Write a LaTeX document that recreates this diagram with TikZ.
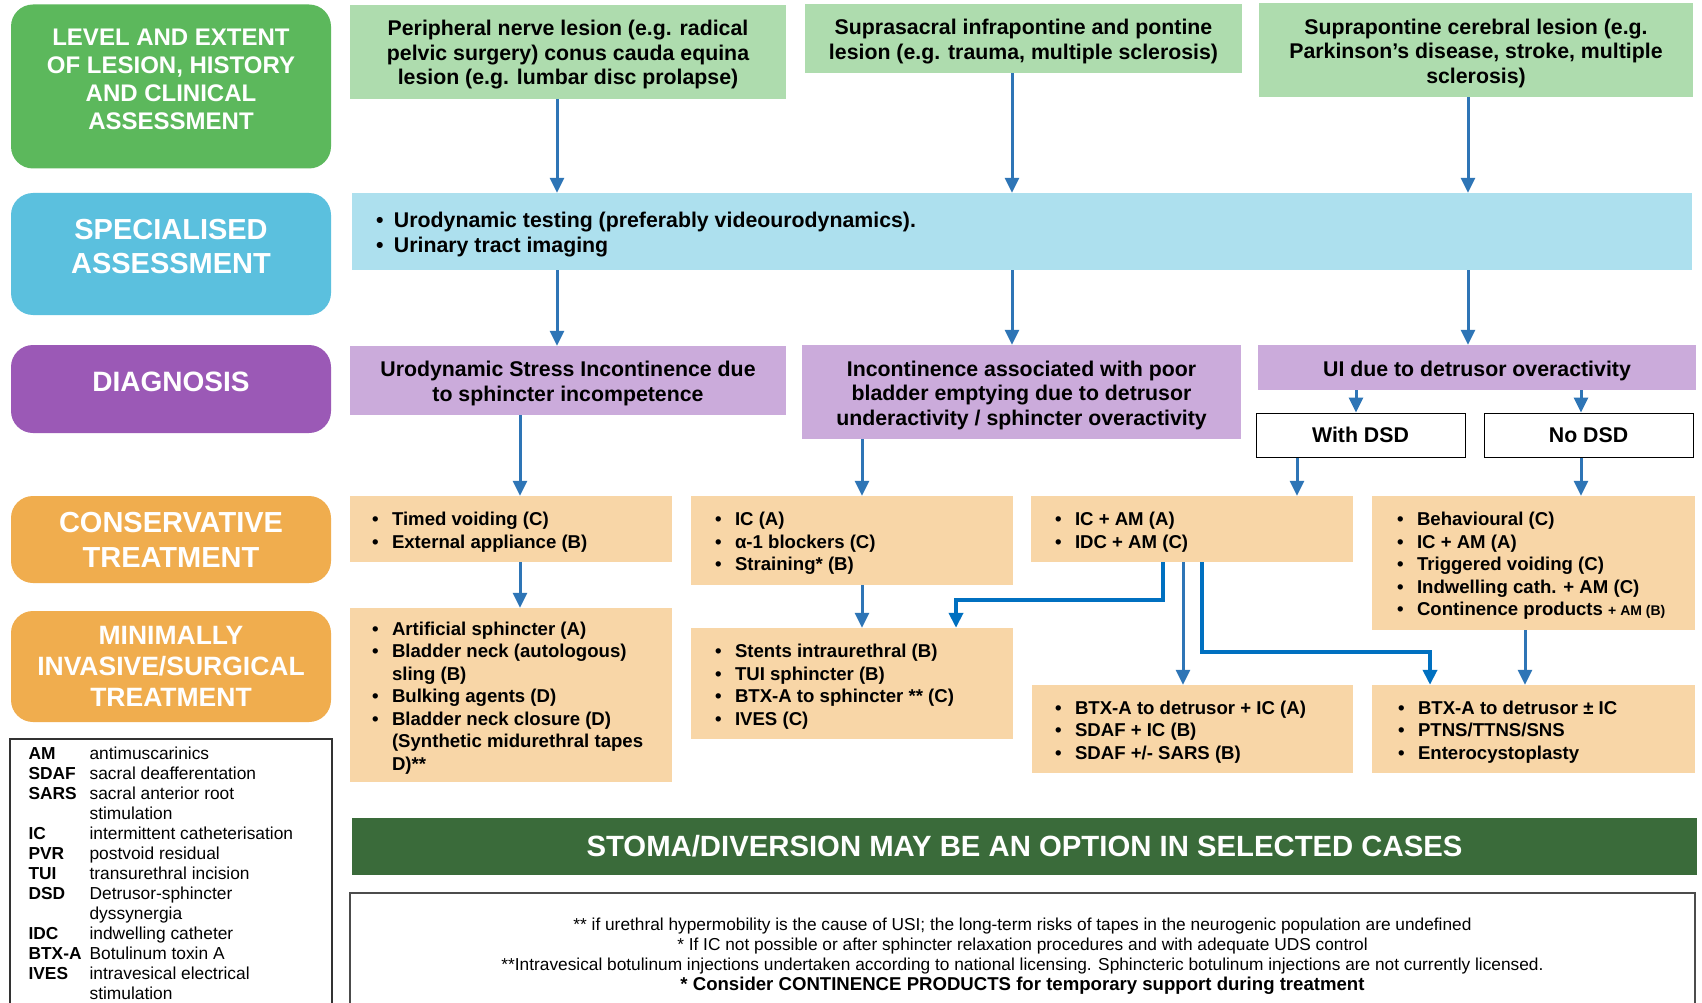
\documentclass[tikz,border=0pt]{standalone}
\usepackage{fontspec}
\setmainfont{Liberation Sans}
\usetikzlibrary{arrows.meta,calc}

\definecolor{cgreen}{HTML}{5CB85C}
\definecolor{cblue}{HTML}{5BC0DE}
\definecolor{cpurple}{HTML}{9B59B6}
\definecolor{corange}{HTML}{F0AD4E}
\definecolor{lgreen}{HTML}{AEDCAE}
\definecolor{lblue}{HTML}{ADE0EE}
\definecolor{lpurple}{HTML}{CBABDB}
\definecolor{lorange}{HTML}{F8D6A7}
\definecolor{dgreen}{HTML}{3A6B3A}
\definecolor{arrblue}{HTML}{2E75B6}
\definecolor{arrbluetwo}{HTML}{0070C0}

\newcommand{\bul}[1][20pt]{\makebox[#1][l]{\textbullet}}
\newcommand{\bind}[1][20pt]{\hspace*{#1}}
\newcommand{\tstrut}{\rule{0pt}{21.5pt}}

\tikzset{
  lab/.style={rounded corners=22pt, inner sep=0pt, minimum width=320pt},
  labtxt/.style={text=white, align=center, inner sep=0pt},
  mbox/.style={inner sep=0pt, align=center, font=\bfseries\fontsize{21.3}{24.5}\selectfont},
  tbox/.style={fill=lorange, inner sep=0pt},
  tlist/.style={anchor=west, inner sep=0pt, yshift=-3pt, align=left, font=\bfseries\fontsize{18.6}{22.5}\selectfont},
  dsdbox/.style={draw=black, line width=1pt, fill=white, inner sep=0pt, minimum width=209pt, minimum height=44pt, font=\bfseries\fontsize{21.3}{24.5}\selectfont},
  arr/.style={draw=arrblue, line width=3pt, -{Triangle[length=15pt,width=14pt]}},
  arrb/.style={draw=arrbluetwo, line width=4pt, -{Triangle[length=15pt,width=14pt]}},
}

\begin{document}
\begin{tikzpicture}[x=1pt,y=-1pt]
\useasboundingbox (0,0) rectangle (1702,1003);
\fill[white] (0,0) rectangle (1702,1003);

% left labels
\node[lab, fill=cgreen, minimum height=164pt] (lev) at (171,86.5) {};
\node[labtxt, font=\bfseries\fontsize{24}{28}\selectfont, yshift=7.5pt] (levt) at (lev.center) {LEVEL AND EXTENT\\OF LESION, HISTORY\\AND CLINICAL\\ASSESSMENT};
\node[lab, fill=cblue, minimum height=122pt] (spec) at (171,254) {};
\node[labtxt, font=\bfseries\fontsize{29}{34}\selectfont, yshift=7.5pt] (spect) at (spec.center) {SPECIALISED\\ASSESSMENT};
\node[lab, fill=cpurple, minimum height=88pt] (diag) at (171,389) {};
\node[labtxt, font=\bfseries\fontsize{28}{34}\selectfont, yshift=7pt] (diagt) at (diag.center) {DIAGNOSIS};
\node[lab, fill=corange, minimum height=87pt] (cons) at (171,539.5) {};
\node[labtxt, font=\bfseries\fontsize{29}{35}\selectfont] (const) at (cons.center) {CONSERVATIVE\\TREATMENT};
\node[lab, fill=corange, minimum height=111pt] (mini) at (171,666.5) {};
\node[labtxt, font=\bfseries\fontsize{26.5}{31}\selectfont] (minit) at (mini.center) {MINIMALLY\\INVASIVE/SURGICAL\\TREATMENT};

% legend
\node[draw=black!80, line width=1.2pt, inner sep=0pt, minimum width=322pt, minimum height=268pt] (legend) at (171,873) {};
\node[anchor=west, inner sep=0pt, align=left, font=\fontsize{17.35}{20}\selectfont] (legt) at ([xshift=19pt]legend.west) {%
\makebox[61pt][l]{\textbf{AM}}antimuscarinics\\
\makebox[61pt][l]{\textbf{SDAF}}sacral deafferentation\\
\makebox[61pt][l]{\textbf{SARS}}sacral anterior root\\
\makebox[61pt][l]{}stimulation\\
\makebox[61pt][l]{\textbf{IC}}intermittent catheterisation\\
\makebox[61pt][l]{\textbf{PVR}}postvoid residual\\
\makebox[61pt][l]{\textbf{TUI}}transurethral incision\\
\makebox[61pt][l]{\textbf{DSD}}Detrusor-sphincter\\
\makebox[61pt][l]{}dyssynergia\\
\makebox[61pt][l]{\textbf{IDC}}indwelling catheter\\
\makebox[61pt][l]{\textbf{BTX-A}}Botulinum toxin A\\
\makebox[61pt][l]{\textbf{IVES}}intravesical electrical\\
\makebox[61pt][l]{}stimulation};

% top row
\node[mbox, fill=lgreen, minimum width=436pt, minimum height=94pt] (p1) at (568,52) {\tstrut Peripheral nerve lesion (e.g. radical\\pelvic surgery) conus cauda equina\\lesion (e.g. lumbar disc prolapse)};
\node[mbox, fill=lgreen, minimum width=437pt, minimum height=69pt] (p2) at (1023.5,38.5) {\tstrut Suprasacral infrapontine and pontine\\lesion (e.g. trauma, multiple sclerosis)};
\node[mbox, fill=lgreen, minimum width=434pt, minimum height=94pt] (p3) at (1476,50) {\tstrut Suprapontine cerebral lesion (e.g.\\Parkinson’s disease, stroke, multiple\\sclerosis)};

% specialised assessment
\node[fill=lblue, inner sep=0pt, minimum width=1340pt, minimum height=77pt] (sa) at (1022,231.5) {};
\node[anchor=west, inner sep=0pt, yshift=-3pt, align=left, font=\bfseries\fontsize{21.3}{25}\selectfont] (sat) at ([xshift=24pt]sa.west) {\bul[18pt]Urodynamic testing (preferably videourodynamics).\\\bul[18pt]Urinary tract imaging};

% diagnosis
\node[mbox, fill=lpurple, minimum width=436pt, minimum height=69pt] (d1) at (568,380.5) {\tstrut Urodynamic Stress Incontinence due\\to sphincter incompetence};
\node[mbox, fill=lpurple, minimum width=439pt, minimum height=94pt] (d2) at (1021.5,392) {\tstrut Incontinence associated with poor\\bladder emptying due to detrusor\\underactivity / sphincter overactivity};
\node[mbox, fill=lpurple, minimum width=438pt, minimum height=45pt] (d3) at (1477,367.5) {\tstrut UI due to detrusor overactivity};
\node[dsdbox] (wd) at (1360.5,435) {With DSD};
\node[dsdbox] (nd) at (1588.5,435) {No DSD};

% conservative
\node[tbox, minimum width=322pt, minimum height=66pt] (c1) at (511,529) {};
\node[tlist] (c1t) at ([xshift=22pt]c1.west) {\bul Timed voiding (C)\\\bul External appliance (B)};
\node[tbox, minimum width=322pt, minimum height=89pt] (c2) at (852,540.5) {};
\node[tlist] (c2t) at ([xshift=24pt]c2.west) {\bul IC (A)\\\bul α-1 blockers (C)\\\bul Straining* (B)};
\node[tbox, minimum width=322pt, minimum height=66pt] (c3) at (1192,529) {};
\node[tlist] (c3t) at ([xshift=24pt]c3.west) {\bul IC + AM (A)\\\bul IDC + AM (C)};
\node[tbox, minimum width=323pt, minimum height=134pt] (c4) at (1533.5,563) {};
\node[tlist] (c4t) at ([xshift=25pt]c4.west) {\bul Behavioural (C)\\\bul IC + AM (A)\\\bul Triggered voiding (C)\\\bul Indwelling cath. + AM (C)\\\bul Continence products {\fontsize{14}{22.5}\selectfont + AM (B)}};

% surgical
\node[tbox, minimum width=322pt, minimum height=174pt] (s1) at (511,695) {};
\node[tlist] (s1t) at ([xshift=22pt]s1.west) {\bul Artificial sphincter (A)\\\bul Bladder neck (autologous)\\\bind sling (B)\\\bul Bulking agents (D)\\\bul Bladder neck closure (D)\\\bind (Synthetic midurethral tapes\\\bind D)**};
\node[tbox, minimum width=322pt, minimum height=111pt] (s2) at (852,683.5) {};
\node[tlist] (s2t) at ([xshift=24pt]s2.west) {\bul Stents intraurethral (B)\\\bul TUI sphincter (B)\\\bul BTX-A to sphincter ** (C)\\\bul IVES (C)};
\node[tbox, minimum width=321pt, minimum height=88pt] (s3) at (1192.5,729) {};
\node[tlist] (s3t) at ([xshift=23pt]s3.west) {\bul BTX-A to detrusor + IC (A)\\\bul SDAF + IC (B)\\\bul SDAF +/- SARS (B)};
\node[tbox, minimum width=323pt, minimum height=88pt] (s4) at (1533.5,729) {};
\node[tlist] (s4t) at ([xshift=26pt]s4.west) {\bul BTX-A to detrusor ± IC\\\bul PTNS/TTNS/SNS\\\bul Enterocystoplasty};

% stoma bar
\node[fill=dgreen, text=white, inner sep=0pt, minimum width=1345pt, minimum height=57pt, font=\bfseries\fontsize{29.3}{34}\selectfont] (stoma) at (1024.5,846.5) {STOMA/DIVERSION MAY BE AN OPTION IN SELECTED CASES};

% footnotes
\node[draw=black!70, line width=1.3pt, inner sep=0pt, minimum width=1345pt, minimum height=127pt, align=center, font=\fontsize{17.3}{20}\selectfont] (foot) at (1022.5,956.5) {** if urethral hypermobility is the cause of USI; the long-term risks of tapes in the neurogenic population are undefined\\* If IC not possible or after sphincter relaxation procedures and with adequate UDS control\\**Intravesical botulinum injections undertaken according to national licensing. Sphincteric botulinum injections are not currently licensed.\\{\bfseries\fontsize{18.6}{20.5}\selectfont * Consider CONTINENCE PRODUCTS for temporary support during treatment}};

% arrow columns
\coordinate (k1) at (557,0);
\coordinate (k2) at (1012,0);
\coordinate (k3) at (1468,0);
\coordinate (k4) at (520,0);
\coordinate (k5) at (862,0);
\coordinate (k6) at (1356,0);
\coordinate (k7) at (1581,0);
\coordinate (k8) at (1297,0);
\coordinate (k9) at (1183,0);
\coordinate (k10) at (1525,0);
\coordinate (bA) at (1163,600);
\coordinate (bB) at (956,600);
\coordinate (bC) at (1202,652);
\coordinate (bD) at (1430,652);

\draw[arr] (p1.south -| k1) -- (sa.north -| k1);
\draw[arr] (p2.south -| k2) -- (sa.north -| k2);
\draw[arr] (p3.south -| k3) -- (sa.north -| k3);
\draw[arr] (sa.south -| k1) -- (d1.north -| k1);
\draw[arr] (sa.south -| k2) -- (d2.north -| k2);
\draw[arr] (sa.south -| k3) -- (d3.north -| k3);
\draw[arr] (d1.south -| k4) -- (c1.north -| k4);
\draw[arr] (c1.south -| k4) -- (s1.north -| k4);
\draw[arr] (d2.south -| k5) -- (c2.north -| k5);
\draw[arr] (c2.south -| k5) -- (s2.north -| k5);
\draw[arr] (d3.south -| k6) -- (wd.north -| k6);
\draw[arr] (d3.south -| k7) -- (nd.north -| k7);
\draw[arr] (wd.south -| k8) -- (c3.north -| k8);
\draw[arr] (nd.south -| k7) -- (c4.north -| k7);
\draw[arr] (c3.south -| k9) -- (s3.north -| k9);
\draw[arr] (c4.south -| k10) -- (s4.north -| k10);
\draw[arrb] (c3.south -| bA) -- (bA) -- (bB) -- (s2.north -| bB);
\draw[arrb] (c3.south -| bC) -- (bC) -- (bD) -- (s4.north -| bD);
\end{tikzpicture}
\end{document}
